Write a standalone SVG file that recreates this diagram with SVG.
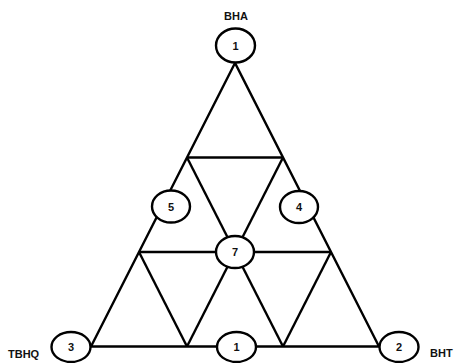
<svg xmlns="http://www.w3.org/2000/svg" width="454" height="363" viewBox="0 0 454 363">
  <style>
    .edge { stroke: #000; stroke-width: 2.4; fill: none; stroke-linejoin: miter; }
    .node ellipse { fill: #fff; stroke: #000; stroke-width: 2.4; }
    .num { font-family: "Liberation Sans", Arial, sans-serif; font-weight: bold; font-size: 11px; fill: #111; text-anchor: middle; }
    .lbl { font-family: "Liberation Sans", Arial, sans-serif; font-weight: bold; font-size: 11px; fill: #111; }
  </style>
  <rect width="454" height="363" fill="#fff"/>

  <!-- triangle subdivided into nine smaller triangles -->
  <g id="connectors">
    <polygon class="edge" points="235,63 91,346.5 379,346.5"/>
    <line class="edge" x1="187" y1="157.5" x2="283" y2="157.5"/>
    <line class="edge" x1="139" y1="252" x2="331" y2="252"/>
    <line class="edge" x1="187" y1="157.5" x2="283" y2="346.5"/>
    <line class="edge" x1="283" y1="157.5" x2="187" y2="346.5"/>
    <line class="edge" x1="139" y1="252" x2="187" y2="346.5"/>
    <line class="edge" x1="331" y1="252" x2="283" y2="346.5"/>
  </g>

  <!-- corner labels -->
  <text class="lbl" x="236" y="20" text-anchor="middle">BHA</text>
  <text class="lbl" x="8" y="358">TBHQ</text>
  <text class="lbl" x="430" y="357">BHT</text>

  <g id="node-top" class="node">
    <ellipse cx="235.5" cy="45.5" rx="19.5" ry="17"/>
    <text class="num" x="235.5" y="49.5">1</text>
  </g>
  <g id="node-5" class="node">
    <ellipse cx="171" cy="206.5" rx="19" ry="16"/>
    <text class="num" x="171" y="210.5">5</text>
  </g>
  <g id="node-4" class="node">
    <ellipse cx="299" cy="207" rx="19" ry="16"/>
    <text class="num" x="299" y="211">4</text>
  </g>
  <g id="node-7" class="node">
    <ellipse cx="235" cy="252" rx="19" ry="16"/>
    <text class="num" x="235" y="256">7</text>
  </g>
  <g id="node-3" class="node">
    <ellipse cx="71" cy="347" rx="19.5" ry="15"/>
    <text class="num" x="71" y="351">3</text>
  </g>
  <g id="node-bottom" class="node">
    <ellipse cx="236.5" cy="347" rx="19.5" ry="15"/>
    <text class="num" x="236.5" y="351">1</text>
  </g>
  <g id="node-2" class="node">
    <ellipse cx="399" cy="347" rx="19.5" ry="15"/>
    <text class="num" x="399" y="351">2</text>
  </g>
</svg>
